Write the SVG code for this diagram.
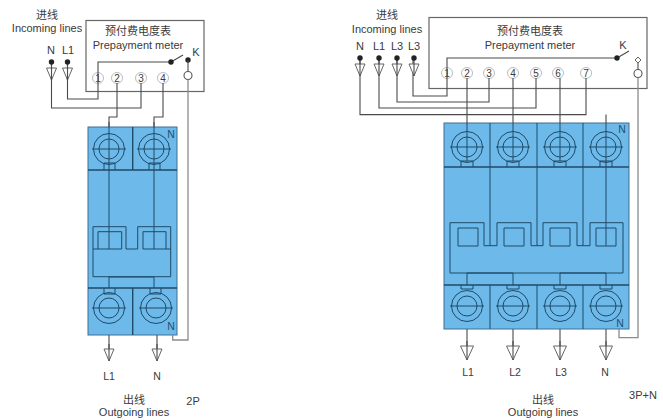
<svg xmlns="http://www.w3.org/2000/svg" width="663" height="420" viewBox="0 0 663 420">
<style>
text{font-family:"Liberation Sans","Noto Sans CJK SC",sans-serif;fill:#3a3a3a;text-anchor:middle}
.t{font-size:11px}
.s{font-size:10.5px}
.z{font-size:10px}
.m{fill:none;stroke:#666;stroke-width:1.2}
.w{fill:none;stroke:#4a4a4a;stroke-width:1.1}
.g{fill:none;stroke:#8c8c8c;stroke-width:1.3}
.b{fill:#6cb9ea;stroke:#3d6f92;stroke-width:1}
.d{fill:none;stroke:#1f4a68;stroke-width:1}
.h{fill:none;stroke:#1f4a68;stroke-width:1.4}
.n{fill:#244f6d;font-size:10.5px}
.c{fill:#fff;stroke:#aaa;stroke-width:.8}
.o{fill:#fff;stroke:#555;stroke-width:1.1}
.a{fill:#fff;stroke:#666;stroke-width:1}
.k{fill:#222}
</style>
<defs>
<g id="term"><circle r="15.5" class="d"/><circle r="10" class="d"/><path class="d" d="M-17 0H17"/></g>
<g id="arrow"><path class="a" d="M-5 0H5L0 12Z"/><path class="w" d="M0 -5V12"/></g>
<g id="arrow-wide"><path class="a" d="M-6.500 0H6.500L0 14Z"/><path class="w" d="M0 -5V14"/></g>
<g id="num"><circle r="5.5" class="c"/></g>
</defs>

<g id="left-meter">
<rect x="86" y="20.5" width="118" height="71" fill="#fff" class="m"/>
<text x="138" y="35" class="t">预付费电度表</text>
<text x="138" y="49" class="t">Prepayment meter</text>
<text x="196" y="56" class="t">K</text>
</g>
<g id="left-terminals">
<use href="#num" x="98" y="78"/><text x="98" y="81.5" class="z">1</text>
<use href="#num" x="117" y="78"/><text x="117" y="81.5" class="z">2</text>
<use href="#num" x="141" y="78"/><text x="141" y="81.5" class="z">3</text>
<use href="#num" x="163" y="78"/><text x="163" y="81.5" class="z">4</text>
</g>
<g id="left-breaker">
<rect x="88" y="127" width="89" height="208" class="b"/>
<path class="h" d="M88 170H177M88 288H177M132.700 127V170M132.700 288V335"/>
<path class="d" d="M93 249V226.700H126V249M137.700 249V226.700H170.700V249M93 249V276.700H170.700V249M93 249H98M126 249H137.700M166 249H170.700M98 249V231.700H121.700V249M143 249V231.700H166V249M98 249H121.700M143 249H166"/>
<path class="d" d="M109 277V288M154 277V288M109 277H154M104 170V163H115V170M149 170V163H160V170M104 288V294H115V288M150 288V294H161V288"/>
<use href="#term" x="109" y="149"/><use href="#term" x="154" y="149"/>
<use href="#term" x="109" y="308"/><use href="#term" x="156" y="308"/>
<path class="d" d="M109 122V249M154 122V249"/>
<text x="171" y="138" class="n">N</text>
<text x="171" y="330" class="n">N</text>
</g>
<g id="left-labels">
<text x="47" y="19" class="t">进线</text>
<text x="47" y="32" class="t">Incoming lines</text>
<text x="51" y="54" class="t">N</text>
<text x="68" y="54" class="t">L1</text>
<text x="109" y="380" class="s">L1</text>
<text x="157" y="380" class="s">N</text>
<text x="134" y="404" class="t">出线</text>
<text x="134" y="416" class="t">Outgoing lines</text>
<text x="193" y="405" class="t">2P</text>
</g>
<g id="left-connectors">
<path class="w" d="M171 62H98V99H67.500V62M141 83V108H51.500V62M117 83V117H109V127M163 83V117H154V127"/>
<path class="w" d="M171 62 183 55"/>
<circle cx="171" cy="62" r="2.700" class="k"/><circle cx="188" cy="60" r="2.700" class="k"/>
<path class="w" d="M188 60V71"/><circle cx="188" cy="75.500" r="4" class="o"/>
<path class="g" d="M188 79.500V340H172.700V335"/>
<use href="#arrow" x="51.500" y="68"/><use href="#arrow" x="67.500" y="68"/>
<circle cx="51.500" cy="62" r="2.700" class="k"/><circle cx="67.500" cy="62" r="2.700" class="k"/>
<path class="w" d="M109 335V350M157 335V350"/>
<use href="#arrow" x="109" y="349"/><use href="#arrow" x="157" y="349"/>
</g>

<g id="right-meter">
<rect x="429" y="17.500" width="218" height="71" fill="#fff" class="m"/>
<text x="530" y="35" class="t">预付费电度表</text>
<text x="530" y="49" class="t">Prepayment meter</text>
<text x="623" y="49" class="t">K</text>
</g>
<g id="right-terminals">
<use href="#num" x="447" y="73"/><text x="447" y="76.500" class="z">1</text>
<use href="#num" x="467" y="73"/><text x="467" y="76.500" class="z">2</text>
<use href="#num" x="489" y="73"/><text x="489" y="76.500" class="z">3</text>
<use href="#num" x="513" y="73"/><text x="513" y="76.500" class="z">4</text>
<use href="#num" x="536" y="73"/><text x="536" y="76.500" class="z">5</text>
<use href="#num" x="558" y="73"/><text x="558" y="76.500" class="z">6</text>
<use href="#num" x="586" y="73"/><text x="586" y="76.500" class="z">7</text>
</g>
<g id="right-breaker">
<rect x="444" y="123" width="185" height="206" class="b"/>
<path class="h" d="M444 167H629M444 285H629"/>
<path class="d" d="M490 123V245.700M537 123V245.700M583 123V245.700M490 285V329M537 285V329M583 285V329"/>
<path class="d" d="M450 273V222.700H484V245.700H497V222.700H531V245.700H543V222.700H577V245.700H590V222.700H623V273ZM458 246V228H478V246ZM504 246V228H524V246ZM550 246V228H570V246ZM596 246V228H616V246Z"/>
<path class="d" d="M467 273V285M513 273V285M560 273V285M606 273V285M467 273H513M560 273H606"/>
<path class="d" d="M461 167V161H473V167M507 167V161H519V167M554 167V161H566V167M600 167V161H612V167M461 285V289H473V285M507 285V289H519V285M554 285V289H566V285M600 285V289H612V285"/>
<use href="#term" x="467" y="147"/><use href="#term" x="513" y="147"/><use href="#term" x="560" y="147"/><use href="#term" x="606" y="147"/>
<use href="#term" x="467" y="306"/><use href="#term" x="513" y="306"/><use href="#term" x="560" y="306"/><use href="#term" x="606" y="306"/>
<path class="d" d="M467 123V161M513 123V161M560 123V161M606 123V245.700"/>
<text x="622" y="133" class="n">N</text>
<text x="620" y="327" class="n">N</text>
</g>
<g id="right-labels">
<text x="387" y="19" class="t">进线</text>
<text x="387" y="33" class="t">Incoming lines</text>
<text x="360" y="50" class="t">N</text>
<text x="379" y="50" class="t">L1</text>
<text x="397" y="50" class="t">L3</text>
<text x="414" y="50" class="t">L3</text>
<text x="468" y="376" class="s">L1</text>
<text x="515" y="376" class="s">L2</text>
<text x="561" y="376" class="s">L3</text>
<text x="605" y="376" class="s">N</text>
<text x="543" y="404" class="t">出线</text>
<text x="543" y="416" class="t">Outgoing lines</text>
<text x="643" y="399" class="t">3P+N</text>
</g>
<g id="right-connectors">
<path class="w" d="M617 58H447V96H413V58M489 78V102H397V58M536 78V108H379V58M586 78V114.600H360V58M606 114.600V123M467 78V123M513 78V123M560 78V123"/>
<path class="w" d="M617 58 629 51"/>
<circle cx="617" cy="58" r="2.700" class="k"/>
<path class="a" d="M638 57 641 60 638 63 635 60Z"/>
<path class="w" d="M638 63V69"/><circle cx="638" cy="73.500" r="4" class="o"/>
<path class="g" d="M638 77.500V337.700H619V329"/>
<use href="#arrow" x="360" y="64"/><use href="#arrow" x="379" y="64"/><use href="#arrow" x="397" y="64"/><use href="#arrow" x="414" y="64"/>
<circle cx="360" cy="58" r="2.700" class="k"/><circle cx="379" cy="58" r="2.700" class="k"/><circle cx="397" cy="58" r="2.700" class="k"/><circle cx="414" cy="58" r="2.700" class="k"/>
<path class="w" d="M467 329V347M513 329V347M560 329V347M606 329V347"/>
<use href="#arrow-wide" x="467" y="346"/><use href="#arrow-wide" x="513" y="346"/><use href="#arrow-wide" x="560" y="346"/><use href="#arrow-wide" x="606" y="346"/>
</g>
</svg>
